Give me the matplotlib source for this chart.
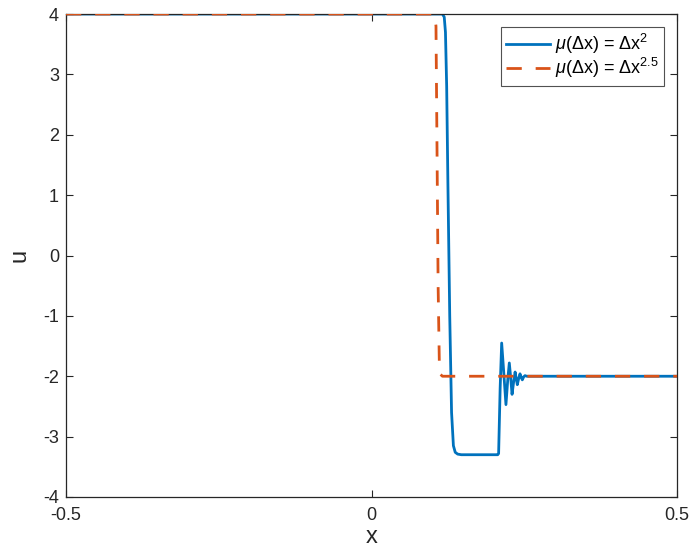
import matplotlib
matplotlib.use("Agg")
import matplotlib.pyplot as plt

plt.rcParams["font.family"] = ["Liberation Sans", "DejaVu Sans"]
plt.rcParams["mathtext.fontset"] = "custom"
plt.rcParams["mathtext.rm"] = "Liberation Sans"
plt.rcParams["mathtext.it"] = "Liberation Sans:italic"

# mu(dx) = dx^2  (blue, solid)
x_sq = [-0.5, 0.116, 0.119, 0.121, 0.123, 0.125, 0.128, 0.131, 0.134, 0.137, 0.141, 0.147,
        0.2065, 0.2080, 0.2105, 0.2130, 0.2165, 0.2200, 0.2230, 0.2255, 0.2280, 0.2300,
        0.2325, 0.2350, 0.2370, 0.2386, 0.2410, 0.2430, 0.2450, 0.2468, 0.2490, 0.2512,
        0.2540, 0.5]
u_sq = [4.0, 4.0, 3.95, 3.7, 2.8, 1.2, -1.0, -2.6, -3.15, -3.26, -3.29, -3.30,
        -3.30, -3.28, -2.2, -1.45, -1.95, -2.47, -2.05, -1.78, -2.05, -2.30,
        -2.10, -1.93, -2.05, -2.14, -2.03, -1.96, -2.02, -2.06, -2.01, -1.99,
        -2.0, -2.0]

# mu(dx) = dx^2.5  (orange, dashed)
x_25 = [-0.5, 0.103, 0.1055, 0.107, 0.109, 0.111, 0.113, 0.116, 0.5]
u_25 = [4.0, 4.0, 3.8, 2.0, -0.5, -1.8, -1.97, -2.0, -2.0]

legend_labels = [r"$\mu$(Δx) = Δx$^{2}$", r"$\mu$(Δx) = Δx$^{2.5}$"]

fig = plt.figure(figsize=(6.91, 5.5), dpi=100)
ax = fig.add_axes([0.0955, 0.0964, 0.8843, 0.8781])

ax.plot(x_sq, u_sq, color="#0072BD", linewidth=2, label=legend_labels[0], zorder=2)
ax.plot(x_25, u_25, color="#D95319", linewidth=2, linestyle=(0, (5.5, 5)),
        label=legend_labels[1], zorder=3)

ax.set_xlim(-0.5, 0.5)
ax.set_ylim(-4, 4)
ax.set_xticks([-0.5, 0, 0.5])
ax.set_xticklabels(["-0.5", "0", "0.5"])
ax.set_yticks(range(-4, 5))
ax.set_yticklabels([str(v) for v in range(-4, 5)])
ax.tick_params(direction="in", top=True, right=True, labelsize=13,
               colors="#262626", length=5, width=0.8)
ax.tick_params(axis="x", pad=7)
ax.tick_params(axis="y", pad=5)
for s in ax.spines.values():
    s.set_color("#262626")
    s.set_linewidth(0.9)

ax.set_xlabel("x", fontsize=17, color="#262626", labelpad=2)
ax.set_ylabel("u", fontsize=17, color="#262626", labelpad=9)

leg = ax.legend(loc="upper right", fontsize=13, frameon=True, fancybox=False,
                edgecolor="#262626", handlelength=2.4, borderpad=0.3,
                labelspacing=0.0, handletextpad=0.3, borderaxespad=0.7)
leg.get_frame().set_linewidth(0.8)

fig.savefig("out.png", dpi=100)
